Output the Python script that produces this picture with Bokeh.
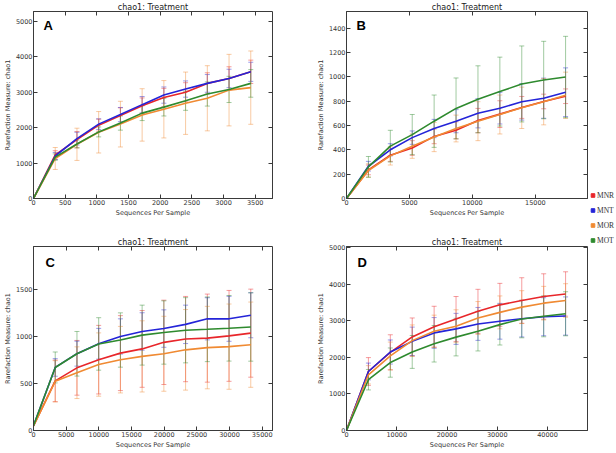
from bokeh.plotting import figure
from bokeh.models import (Range1d, FixedTicker, Whisker, TeeHead, ColumnDataSource,
                          Label, Legend, LegendItem, LinearAxis, GridBox)
from bokeh.embed import file_html
from bokeh.resources import INLINE

groups = ["MNR", "MNT", "MOR", "MOT"]
group_colors = ["#e8262a", "#2424d8", "#f08a32", "#2e8a2e"]
panel_title = "chao1: Treatment"

# ---------------- Panel A ----------------
a_x = [0, 343, 686, 1029, 1372, 1715, 2058, 2401, 2744, 3087, 3430]
a_mnr = [0, 1230, 1660, 2070, 2340, 2620, 2850, 3000, 3250, 3390, 3577]
a_mnt = [0, 1200, 1690, 2100, 2370, 2650, 2920, 3090, 3250, 3390, 3577]
a_mor = [0, 1130, 1530, 1870, 2100, 2360, 2520, 2690, 2830, 3060, 3130]
a_mot = [0, 1170, 1540, 1880, 2130, 2410, 2580, 2760, 2950, 3080, 3250]
a_mnr_err = [0, 120, 230, 170, 220, 220, 260, 270, 300, 330, 330]
a_mnt_err = [0, 100, 180, 150, 200, 230, 230, 230, 250, 260, 270]
a_mor_err = [0, 310, 455, 585, 645, 740, 810, 880, 920, 1010, 1035]
a_mot_err = [0, 90, 110, 140, 200, 210, 250, 270, 340, 370, 390]
a_xticks = [0, 500, 1000, 1500, 2000, 2500, 3000, 3500]
a_yticks = [0, 1000, 2000, 3000, 4000, 5000]
a_xmax, a_ymax = 3773, 5280

# ---------------- Panel B ----------------
b_x = [0, 1740, 3480, 5220, 6960, 8700, 10440, 12180, 13920, 15660, 17400]
b_mnr = [0, 235, 355, 415, 510, 560, 640, 693, 748, 797, 840]
b_mnt = [0, 265, 400, 500, 575, 635, 700, 742, 794, 824, 873]
b_mor = [0, 230, 350, 430, 505, 575, 635, 690, 745, 795, 848]
b_mot = [0, 260, 430, 525, 635, 740, 815, 878, 941, 973, 998]
b_mnr_err = [0, 40, 50, 60, 60, 70, 100, 110, 90, 60, 60]
b_mnt_err = [0, 40, 50, 55, 75, 95, 120, 130, 150, 165, 200]
b_mor_err = [0, 55, 75, 100, 120, 110, 160, 160, 170, 190, 190]
b_mot_err = [0, 85, 130, 165, 215, 250, 275, 283, 312, 318, 334]
b_xticks = [0, 5000, 10000, 15000]
b_yticks = [0, 200, 400, 600, 800, 1000, 1200, 1400]
b_xmax, b_ymax = 19140, 1536

# ---------------- Panel C ----------------
c_x = [0, 3325, 6650, 9975, 13300, 16625, 19950, 23275, 26600, 29925, 33250]
c_mnr = [50, 530, 669, 756, 826, 871, 941, 976, 986, 1010, 1039]
c_mnt = [50, 673, 820, 926, 1004, 1057, 1088, 1133, 1192, 1192, 1230]
c_mor = [50, 525, 617, 704, 756, 791, 819, 861, 885, 895, 916]
c_mot = [50, 673, 819, 924, 966, 1018, 1046, 1070, 1080, 1091, 1105]
c_mnr_err = [0, 222, 292, 366, 400, 410, 450, 455, 470, 485, 470]
c_mnt_err = [0, 94, 133, 164, 188, 200, 200, 205, 225, 240, 240]
c_mor_err = [0, 220, 276, 338, 355, 380, 400, 430, 440, 455, 455]
c_mot_err = [0, 165, 238, 280, 290, 320, 338, 348, 345, 350, 365]
c_xticks = [0, 5000, 10000, 15000, 20000, 25000, 30000, 35000]
c_yticks = [0, 500, 1000, 1500]
c_xmax, c_ymax = 36575, 1964

# ---------------- Panel D ----------------
d_x = [0, 4360, 8720, 13080, 17440, 21800, 26160, 30520, 34880, 39240, 43600]
d_mnr = [0, 1615, 2140, 2560, 2840, 3052, 3261, 3439, 3558, 3667, 3737]
d_mnt = [0, 1615, 2148, 2440, 2671, 2781, 2917, 2990, 3060, 3114, 3133]
d_mor = [0, 1525, 2040, 2460, 2717, 2854, 3079, 3233, 3377, 3485, 3558]
d_mot = [0, 1390, 1859, 2150, 2374, 2556, 2719, 2898, 3052, 3125, 3195]
d_mnr_err = [0, 380, 480, 520, 560, 615, 603, 588, 623, 622, 607]
d_mnt_err = [0, 230, 330, 390, 420, 425, 450, 490, 500, 520, 523]
d_mor_err = [0, 250, 380, 430, 440, 450, 450, 450, 450, 460, 460]
d_mot_err = [0, 280, 400, 450, 500, 514, 542, 558, 515, 560, 603]
d_xticks = [0, 10000, 20000, 30000, 40000]
d_yticks = [0, 1000, 2000, 3000, 4000, 5000]
d_xmax, d_ymax = 47960, 5036

FONT = "DejaVu Sans"
AXIS_COLOR = "#3a3a3a"
TEXT_COLOR = "#333333"


def make_panel(letter, xs, series, errs, xmax, ymax, xticks, yticks,
               width, height, left, right, top, bottom, letter_dx, letter_dy):
    p = figure(width=width, height=height,
               min_border_left=left, min_border_right=right,
               min_border_top=top, min_border_bottom=bottom,
               x_range=Range1d(0, xmax), y_range=Range1d(0, ymax),
               output_backend="svg", toolbar_location=None,
               title=panel_title)
    p.title.align = "center"
    p.title.text_font = FONT
    p.title.text_font_size = "8px"
    p.title.text_font_style = "normal"
    p.title.text_color = "#222222"
    p.title.standoff = 0
    p.xgrid.visible = False
    p.ygrid.visible = False
    p.outline_line_color = AXIS_COLOR
    p.outline_line_width = 1
    p.background_fill_color = "white"
    p.border_fill_color = "white"

    for ax, ticks in ((p.xaxis, xticks), (p.yaxis, yticks)):
        ax.ticker = FixedTicker(ticks=ticks)
        ax.major_tick_in = 4
        ax.major_tick_out = 0
        ax.minor_tick_line_color = None
        ax.major_tick_line_color = AXIS_COLOR
        ax.axis_line_color = AXIS_COLOR
        ax.major_label_text_font = FONT
        ax.major_label_text_font_size = "6.5px"
        ax.major_label_text_color = TEXT_COLOR
        ax.major_label_standoff = 1
        ax.axis_label_text_font = FONT
        ax.axis_label_text_font_size = "6.5px"
        ax.axis_label_text_font_style = "normal"
        ax.axis_label_text_color = TEXT_COLOR
        ax.axis_label_standoff = 1
    p.xaxis.axis_label = "Sequences Per Sample"
    p.yaxis.axis_label = "Rarefaction Measure: chao1"

    # inward tick marks on the top and right edges (no labels)
    for loc, ticks in (("above", xticks), ("right", yticks)):
        extra = LinearAxis(ticker=FixedTicker(ticks=ticks), major_tick_in=4,
                           major_tick_out=0, minor_tick_line_color=None,
                           major_tick_line_color=AXIS_COLOR,
                           major_label_text_font_size="1px",
                           major_label_text_color=None,
                           major_label_standoff=0, axis_line_color=None)
        p.add_layout(extra, loc)

    for ys, es, c in zip(series, errs, group_colors):
        src = ColumnDataSource(dict(
            x=xs[1:],
            upper=[y + e for y, e in zip(ys[1:], es[1:])],
            lower=[y - e for y, e in zip(ys[1:], es[1:])],
        ))
        w = Whisker(base="x", upper="upper", lower="lower", source=src,
                    dimension="height", line_color=c, line_alpha=0.45, line_width=1,
                    upper_head=TeeHead(size=5, line_color=c, line_alpha=0.45, line_width=1),
                    lower_head=TeeHead(size=5, line_color=c, line_alpha=0.45, line_width=1),
                    level="underlay")
        p.add_layout(w)
    for ys, c in zip(series, group_colors):
        p.line(xs, ys, line_color=c, line_width=1.6)

    # panel letter, anchored at the frame's top-left corner and offset in pixels
    p.add_layout(Label(x=0, y=ymax, x_offset=letter_dx, y_offset=-letter_dy,
                       text=letter, text_font="Liberation Sans",
                       text_font_size="13px", text_font_style="bold",
                       text_color="black", text_baseline="top"))
    return p


ROW1_H, ROW2_H = 222, 229
COL1_W, COL2_W, LEG_W = 313, 275, 28

pa = make_panel("A", a_x, [a_mnr, a_mnt, a_mor, a_mot],
                [a_mnr_err, a_mnt_err, a_mor_err, a_mot_err],
                a_xmax, a_ymax, a_xticks, a_yticks,
                COL1_W, ROW1_H, 29, 41, 11, 24, 10, 6)
pb = make_panel("B", b_x, [b_mnr, b_mnt, b_mor, b_mot],
                [b_mnr_err, b_mnt_err, b_mor_err, b_mot_err],
                b_xmax, b_ymax, b_xticks, b_yticks,
                COL2_W, ROW1_H, 30, 1, 11, 24, 10, 6)
pc = make_panel("C", c_x, [c_mnr, c_mnt, c_mor, c_mot],
                [c_mnr_err, c_mnt_err, c_mor_err, c_mot_err],
                c_xmax, c_ymax, c_xticks, c_yticks,
                COL1_W, ROW2_H, 29, 41, 24, 21, 12, 8)
pd = make_panel("D", d_x, [d_mnr, d_mnt, d_mor, d_mot],
                [d_mnr_err, d_mnt_err, d_mor_err, d_mot_err],
                d_xmax, d_ymax, d_xticks, d_yticks,
                COL2_W, ROW2_H, 30, 1, 24, 21, 11, 8)

pl = figure(width=LEG_W, height=ROW1_H + ROW2_H, x_range=Range1d(0, 1), y_range=Range1d(0, 1),
            x_axis_location=None, y_axis_location=None, min_border=0,
            output_backend="svg", toolbar_location=None, outline_line_color=None)
pl.xgrid.visible = False
pl.ygrid.visible = False
items = []
for g, c in zip(groups, group_colors):
    # legend proxy: a single NaN point draws nothing but gives the legend its swatch
    r = pl.scatter(x=[float("nan")], y=[float("nan")], marker="square", color=c)
    items.append(LegendItem(label=g, renderers=[r]))
legend = Legend(items=items, location=(0, 185), glyph_width=9, glyph_height=10,
                label_height=10, label_width=10, label_standoff=0, spacing=5,
                padding=0, margin=0, border_line_color=None, background_fill_alpha=0,
                label_text_font="Liberation Serif", label_text_font_size="7.5px",
                label_text_color=TEXT_COLOR)
pl.add_layout(legend)

layout = GridBox(children=[(pa, 0, 0), (pb, 0, 1), (pc, 1, 0), (pd, 1, 1), (pl, 0, 2, 2, 1)],
                 spacing=0)

open("out.html", "w").write(file_html(layout, INLINE))
